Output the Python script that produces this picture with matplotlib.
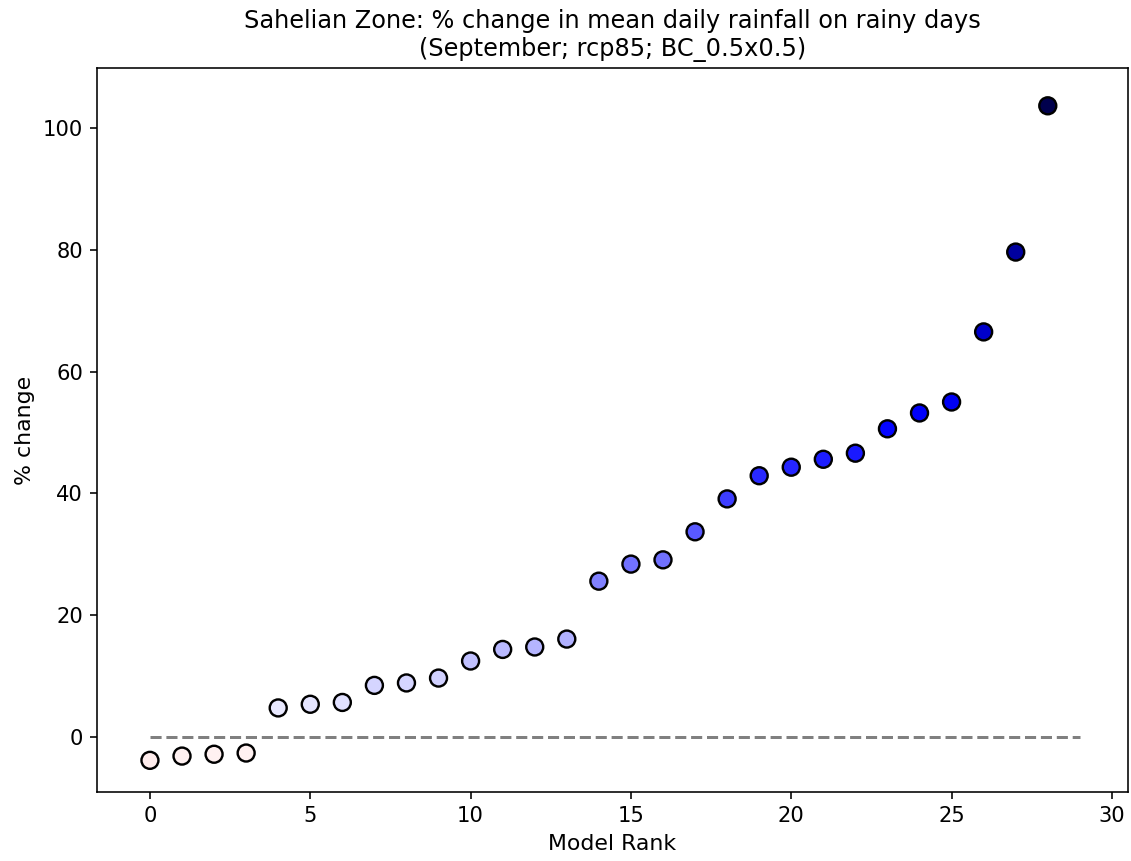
import numpy as np
import matplotlib
matplotlib.use('Agg')
import matplotlib.pyplot as plt

# % change per model, sorted by rank
model_rank = list(range(29))
pct_change = [-3.8, -3.1, -2.8, -2.6, 4.8, 5.4, 5.7, 8.5, 8.9, 9.7,
              12.5, 14.4, 14.8, 16.1, 25.6, 28.4, 29.1, 33.7, 39.1, 42.9,
              44.3, 45.6, 46.6, 50.6, 53.2, 55.0, 66.5, 79.6, 103.6]

title = ('Sahelian Zone: % change in mean daily rainfall on rainy days\n'
         '(September; rcp85; BC_0.5x0.5)')

fig = plt.figure(figsize=(1131 / 144, 861 / 144), dpi=144)
ax = fig.add_axes([0.0858, 0.0801, 0.9115, 0.8409])

vmax = np.max(np.abs(pct_change))
ax.hlines(0, 0, len(model_rank), colors='grey', linestyles='--', linewidth=1.5)
ax.scatter(model_rank, pct_change, c=pct_change, cmap='seismic_r',
           vmin=-vmax, vmax=vmax, s=72, edgecolors='k', linewidths=1.2,
           zorder=3)

ax.set_xlim(-1.65, 30.5)
ax.set_ylim(-9.0, 109.8)
ax.tick_params(labelsize=10.5)
ax.set_xlabel('Model Rank', fontsize=11)
ax.set_ylabel('% change', fontsize=11)
ax.set_title(title, fontsize=12)

fig.savefig('out.png', dpi=144)
